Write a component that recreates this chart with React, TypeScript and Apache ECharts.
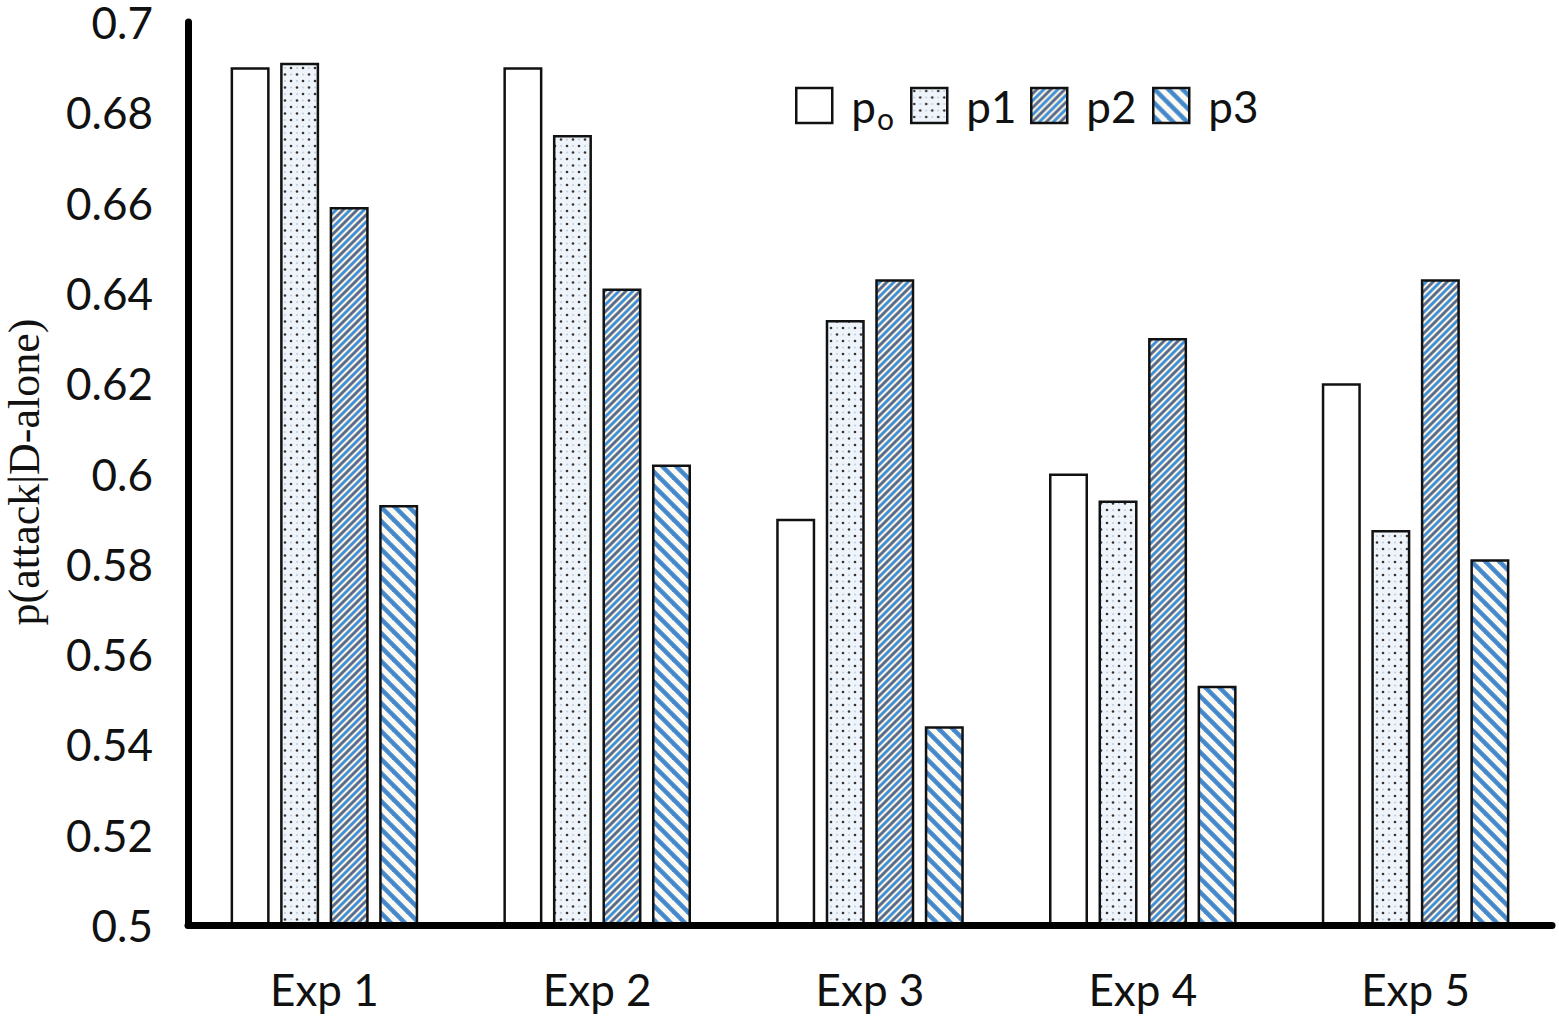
import React, { useEffect, useRef } from "react";
import * as echarts from "echarts";

const categories = ["Exp 1", "Exp 2", "Exp 3", "Exp 4", "Exp 5"];
const seriesNames = ["po", "p1", "p2", "p3"];
const p0Values = [0.69, 0.69, 0.59, 0.6, 0.62];
const p1Values = [0.691, 0.675, 0.634, 0.594, 0.5875];
const p2Values = [0.659, 0.641, 0.643, 0.63, 0.643];
const p3Values = [0.593, 0.602, 0.544, 0.553, 0.581];
const yTicks = { min: 0.5, max: 0.7, interval: 0.02 };
const yAxisTitle = "p(attack|D-alone)";

function makeTile(w: number, h: number, draw: (ctx: CanvasRenderingContext2D) => void) {
  const c = document.createElement("canvas");
  c.width = w;
  c.height = h;
  const ctx = c.getContext("2d")!;
  draw(ctx);
  return c;
}

function dotTile() {
  return makeTile(12, 13, (ctx) => {
    ctx.fillStyle = "#eef4f9";
    ctx.fillRect(0, 0, 12, 13);
    ctx.fillStyle = "#b8d0e6";
    [[9, 3], [3, 9.5]].forEach(([x, y]) => {
      ctx.beginPath();
      ctx.arc(x, y, 1, 0, Math.PI * 2);
      ctx.fill();
    });
    ctx.fillStyle = "#333";
    [[3, 3], [9, 9.5]].forEach(([x, y]) => {
      ctx.beginPath();
      ctx.arc(x, y, 1.3, 0, Math.PI * 2);
      ctx.fill();
    });
  });
}

function slashTile() {
  const S = 14;
  return makeTile(S, S, (ctx) => {
    ctx.fillStyle = "#f6f0dc";
    ctx.fillRect(0, 0, S, S);
    ctx.lineWidth = 2.8;
    const draw = (c: number, color: string) => {
      ctx.strokeStyle = color;
      ctx.beginPath();
      ctx.moveTo(-S, c + S);
      ctx.lineTo(c + S, -S);
      ctx.stroke();
    };
    [-S, 0, S, 2 * S].forEach((c) => draw(c, "#3d8fdc"));
    [-S / 2, S / 2, (3 * S) / 2, (5 * S) / 2].forEach((c) => draw(c, "#566a90"));
  });
}

function backslashTile() {
  const S = 14;
  return makeTile(S, S, (ctx) => {
    ctx.fillStyle = "#fcfaf2";
    ctx.fillRect(0, 0, S, S);
    const draw = (c: number, color: string, w: number) => {
      ctx.strokeStyle = color;
      ctx.lineWidth = w;
      ctx.beginPath();
      ctx.moveTo(c - S, -S);
      ctx.lineTo(c + 2 * S, 2 * S);
      ctx.stroke();
    };
    [-S, 0, S].forEach((c) => draw(c, "#4a8fd3", 4.6));
    [-S, 0, S].forEach((c) => draw(c, "#4580bd", 1.2));
  });
}

export default function App() {
  const ref = useRef<HTMLDivElement>(null);
  useEffect(() => {
    if (!ref.current) return;
    const chart = echarts.init(ref.current, null, { renderer: "svg" });
    const fills: any[] = [
      "#ffffff",
      { image: dotTile(), repeat: "repeat" },
      { image: slashTile(), repeat: "repeat" },
      { image: backslashTile(), repeat: "repeat" },
    ];
    const values = [p0Values, p1Values, p2Values, p3Values];
    const font = "Lato, 'Open Sans', sans-serif";
    const legendLefts = [795, 910, 1030, 1152];
    const legendTops = [78.5, 83.5, 83.5, 83.5];
    const legends = seriesNames.map((name, i) => ({
      left: legendLefts[i],
      top: legendTops[i],
      padding: 0,
      orient: "horizontal",
      icon: "rect",
      itemWidth: 36,
      itemHeight: 35,
      itemStyle: { borderColor: "#111", borderWidth: 2.5 },
      formatter: (n: string) => (n === "po" ? "{b|p}{s|o}" : "{b|" + n + "}"),
      textStyle: {
        color: "#111",
        fontFamily: font,
        fontSize: 44,
        padding: [0, 0, 0, 14],
        rich: {
          b: { fontSize: 44, lineHeight: 44, fontFamily: font, color: "#111" },
          s: { fontSize: 30, lineHeight: 30, fontFamily: font, color: "#111", padding: [24, 0, 0, 1] },
        },
      },
      data: [name],
    }));
    chart.setOption({
      animation: false,
      backgroundColor: "#ffffff",
      grid: { left: 188, right: 7, top: 20, bottom: 97, containLabel: false },
      legend: legends,
      xAxis: {
        type: "category",
        data: categories,
        z: 10,
        axisLine: { show: true, lineStyle: { color: "#000", width: 7 } },
        axisTick: { show: false },
        axisLabel: { color: "#111", fontFamily: font, fontSize: 44, margin: 42 },
      },
      yAxis: {
        type: "value",
        min: yTicks.min,
        max: yTicks.max,
        interval: yTicks.interval,
        z: 10,
        axisLine: { show: true, lineStyle: { color: "#000", width: 7 } },
        axisTick: { show: false },
        splitLine: { show: false },
        axisLabel: { color: "#111", fontFamily: font, fontSize: 44, lineHeight: 38, margin: 35 },
      },
      graphic: [
        {
          type: "text",
          x: 24,
          y: 472,
          rotation: Math.PI / 2,
          style: {
            text: yAxisTitle,
            fontFamily: "'Liberation Serif', 'Times New Roman', serif",
            fontSize: 44,
            fill: "#111",
            align: "center",
            verticalAlign: "middle",
          },
        },
      ],
      series: seriesNames.map((name, i) => ({
        name,
        type: "bar",
        data: values[i],
        barWidth: 39,
        barGap: "27%",
        itemStyle: { color: fills[i], borderColor: "#111", borderWidth: 2.5 },
      })),
    });
    return () => chart.dispose();
  }, []);
  return (
    <div
      ref={ref}
      style={{ position: "fixed", left: 0, top: 0, width: 1559, height: 1022, background: "#fff" }}
    />
  );
}
